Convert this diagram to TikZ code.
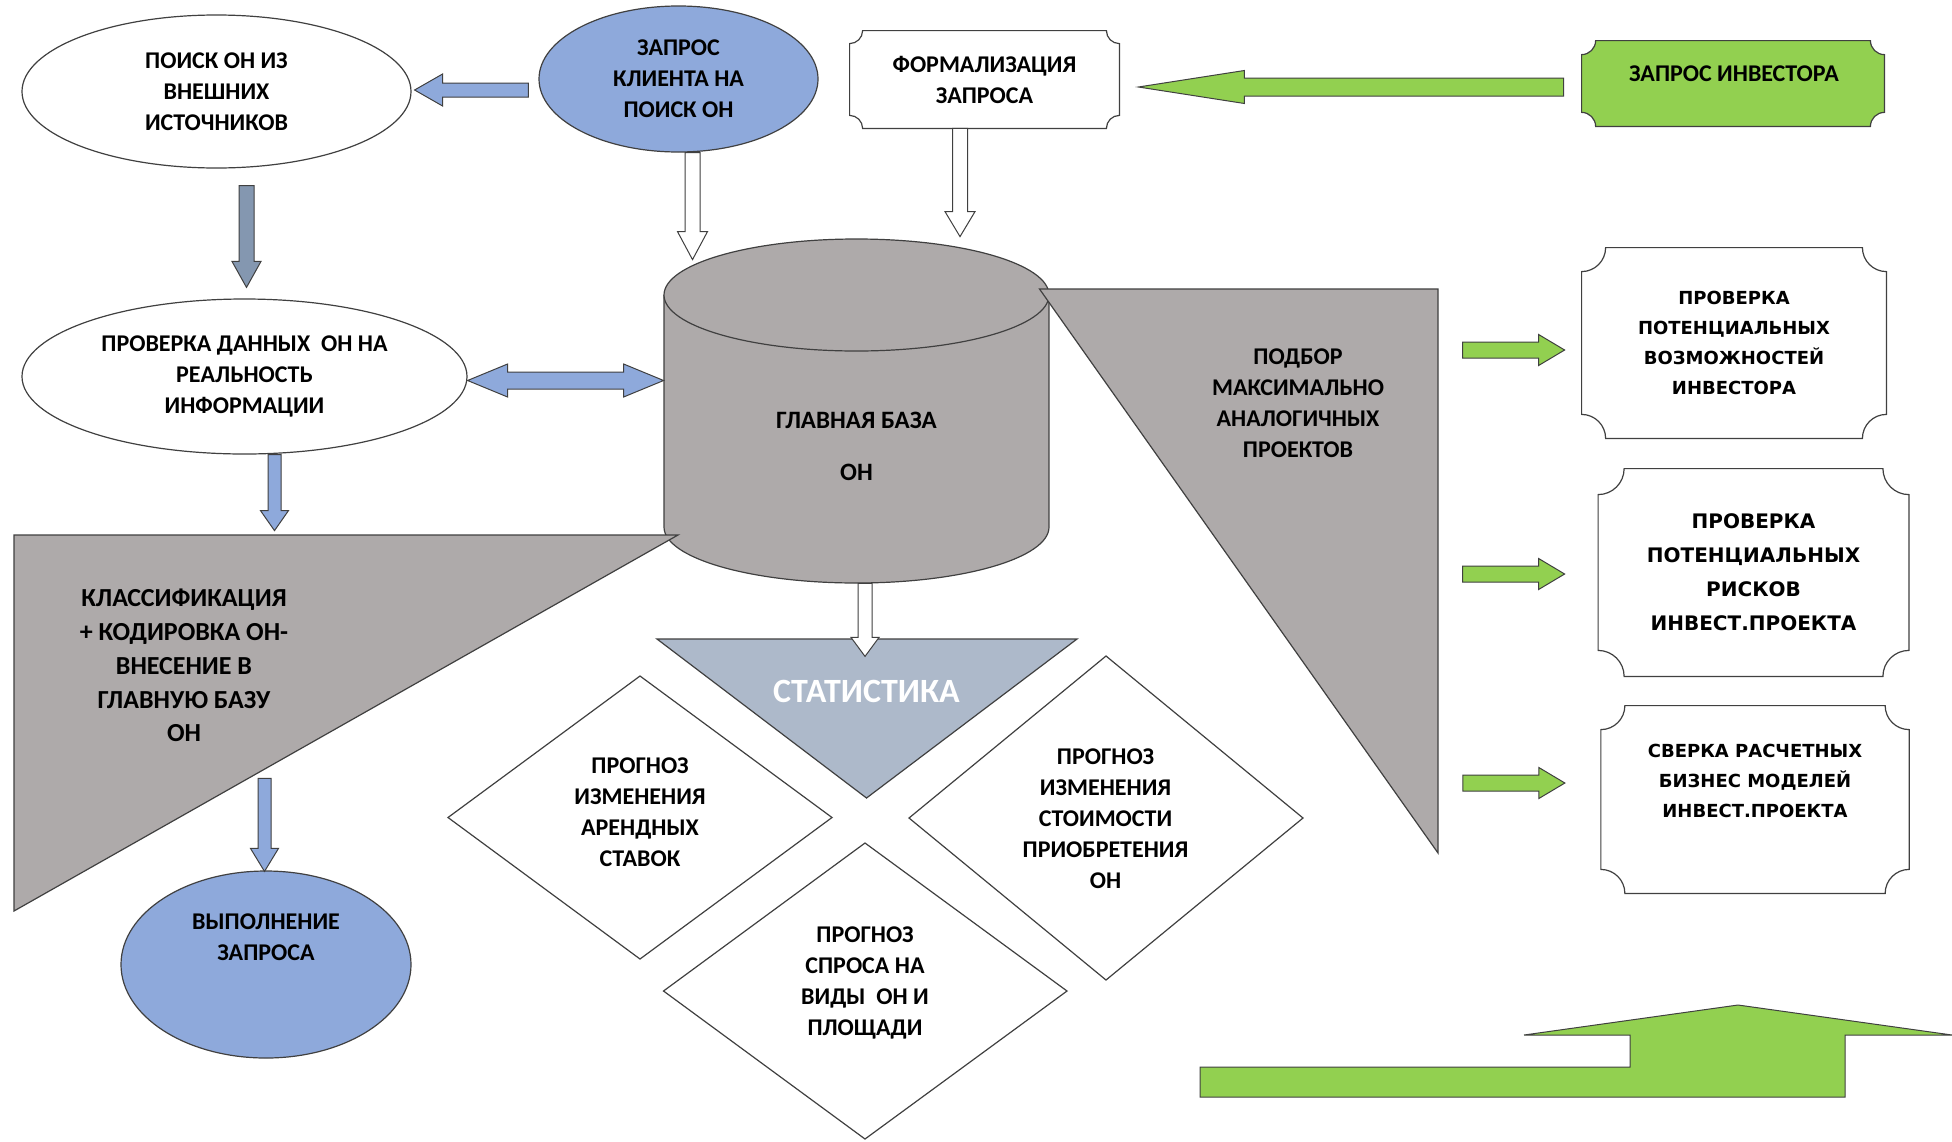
\documentclass[tikz,border=0pt]{standalone}
\usepackage{fontspec}
\setmainfont{Carlito}
\newfontfamily\dvs{DejaVu Sans}
\usetikzlibrary{calc,shapes.geometric}
\definecolor{cblue}{HTML}{8EA9DB}
\definecolor{cdblue}{HTML}{8497B0}
\definecolor{cgray}{HTML}{AEAAAA}
\definecolor{cstat}{HTML}{ADB9CA}
\definecolor{cgreen}{HTML}{92D050}
\definecolor{cline}{HTML}{404040}
\pgfdeclarelayer{bg}
\pgfsetlayers{bg,main}
% horizontal block arrow: style, tail, tip, half shaft, half head, head-base offset from tip (x)
\newcommand\hblock[6]{\draw[#1] ($(#2)+(0,-#4)$) -- ($(#3|-#2)+(#6,-#4)$) -- ($(#3|-#2)+(#6,-#5)$) -- (#3|-#2) -- ($(#3|-#2)+(#6,#5)$) -- ($(#3|-#2)+(#6,#4)$) -- ($(#2)+(0,#4)$) -- cycle;}
% vertical block arrow: style, tail, tip, half shaft, half head, head-base offset from tip (y)
\newcommand\vblock[6]{\draw[#1] ($(#2)+(-#4,0)$) -- ($(#2|-#3)+(-#4,#6)$) -- ($(#2|-#3)+(-#5,#6)$) -- (#2|-#3) -- ($(#2|-#3)+(#5,#6)$) -- ($(#2|-#3)+(#4,#6)$) -- ($(#2)+(#4,0)$) -- cycle;}
% double horizontal block arrow: style, left tip, right tip, half shaft, half head, head length
\newcommand\hdouble[6]{\draw[#1] (#2) -- ($(#2)+(#6,-#5)$) -- ($(#2)+(#6,-#4)$) -- ($(#3|-#2)+(-#6,-#4)$) -- ($(#3|-#2)+(-#6,-#5)$) -- (#3|-#2) -- ($(#3|-#2)+(-#6,#5)$) -- ($(#3|-#2)+(-#6,#4)$) -- ($(#2)+(#6,#4)$) -- ($(#2)+(#6,#5)$) -- cycle;}
% plaque outline around a node: node, corner radius, style
\newcommand\plaque[3]{\begin{pgfonlayer}{bg}\draw[#3] ($(#1.north west)+(#2,0)$) -- ($(#1.north east)+(-#2,0)$)
 .. controls ($(#1.north east)+(-#2,0.552*#2)$) and ($(#1.north east)+(-0.552*#2,#2)$) .. ($(#1.north east)+(0,#2)$)
 -- ($(#1.south east)+(0,-#2)$)
 .. controls ($(#1.south east)+(-0.552*#2,-#2)$) and ($(#1.south east)+(-#2,-0.552*#2)$) .. ($(#1.south east)+(-#2,0)$)
 -- ($(#1.south west)+(#2,0)$)
 .. controls ($(#1.south west)+(#2,-0.552*#2)$) and ($(#1.south west)+(0.552*#2,-#2)$) .. ($(#1.south west)+(0,-#2)$)
 -- ($(#1.north west)+(0,#2)$)
 .. controls ($(#1.north west)+(0.552*#2,#2)$) and ($(#1.north west)+(#2,0.552*#2)$) .. ($(#1.north west)+(#2,0)$) -- cycle;\end{pgfonlayer}}
\tikzset{
  shapeline/.style={draw=cline, line width=0.6pt},
  txt/.style={font=\bfseries\fontsize{12}{15.5}\selectfont, align=center, inner sep=0pt},
  ptxt/.style={font=\dvs\bfseries\fontsize{9}{15}\selectfont, align=center, inner sep=0pt},
  ell/.style={ellipse, shapeline, inner sep=0pt, txt},
  box/.style={rectangle, inner sep=0pt, txt},
  bluearrow/.style={fill=cblue, draw=cline, line width=0.5pt},
  darkarrow/.style={fill=cdblue, draw=cline, line width=0.5pt},
  greenarrow/.style={fill=cgreen, draw=cline, line width=0.5pt},
  openarrow/.style={fill=white, draw=cline, line width=0.5pt},
  grayshape/.style={fill=cgray, shapeline},
  diam/.style={fill=white, shapeline},
}
\begin{document}
\begin{tikzpicture}[x=0.5pt, y=-0.5pt]
\begin{pgfonlayer}{bg}
\fill[white] (0,0) rectangle (1952,1141);
\end{pgfonlayer}
\useasboundingbox (0,0) rectangle (1952,1141);

% ---- ellipses
\node[ell, fill=white, minimum width=194.5pt, minimum height=76.5pt] (E1) at (216.5,91.5) {ПОИСК ОН ИЗ\\ВНЕШНИХ\\ИСТОЧНИКОВ};
\node[ell, fill=cblue, minimum width=139.5pt, minimum height=73pt] (E2) at (678.5,79) {ЗАПРОС\\КЛИЕНТА НА\\ПОИСК ОН};
\node[ell, fill=white, minimum width=222.5pt, minimum height=77.5pt] (E3) at (244.5,376.5) {ПРОВЕРКА ДАННЫХ\ \ ОН НА\\РЕАЛЬНОСТЬ\\ИНФОРМАЦИИ};
\node[ell, fill=cblue, minimum width=145pt, minimum height=93.5pt] (E4) at (266,964.5) {};
\node[txt] (E4t) at (266,937) {ВЫПОЛНЕНИЕ\\ЗАПРОСА};

% ---- plaques
\node[box, minimum width=134.5pt, minimum height=48.5pt] (FORM) at (984.5,79.5) {ФОРМАЛИЗАЦИЯ\\ЗАПРОСА};
\plaque{FORM}{13}{fill=white, shapeline}
\node[box, minimum width=151pt, minimum height=42.5pt] (ZI) at (1733,83.5) {};
\plaque{ZI}{14}{fill=cgreen, shapeline}
\node[txt] (ZIt) at (1734,74) {ЗАПРОС ИНВЕСТОРА};

\node[box, ptxt, minimum width=152pt, minimum height=95pt] (P1) at (1734,343) {ПРОВЕРКА\\ПОТЕНЦИАЛЬНЫХ\\ВОЗМОЖНОСТЕЙ\\ИНВЕСТОРА};
\plaque{P1}{24}{fill=white, shapeline}
\node[box, ptxt, font=\dvs\bfseries\fontsize{10}{17}\selectfont, minimum width=155pt, minimum height=103.5pt] (P2) at (1753.5,572.5) {ПРОВЕРКА\\ПОТЕНЦИАЛЬНЫХ\\РИСКОВ\\ИНВЕСТ.ПРОЕКТА};
\plaque{P2}{26}{fill=white, shapeline}
\node[box, minimum width=153.75pt, minimum height=93.5pt] (P3) at (1755,799.5) {};
\plaque{P3}{24}{fill=white, shapeline}
\node[ptxt] (P3t) at (1755,780.5) {СВЕРКА РАСЧЕТНЫХ\\БИЗНЕС МОДЕЛЕЙ\\ИНВЕСТ.ПРОЕКТА};

% ---- cylinder (main base)
\node[box, minimum width=192.5pt, minimum height=172pt] (CYL) at (856.5,411) {};
\fill[cgray] (664,295) rectangle (1049,527);
\fill[cgray] (856.5,527) ellipse [x radius=96.25pt, y radius=28pt];
\draw[shapeline] (664,295) -- (664,527) .. controls (664,557.9) and (750.2,583) .. (856.5,583)
   .. controls (962.8,583) and (1049,557.9) .. (1049,527) -- (1049,295);
\draw[grayshape] (856.5,295) ellipse [x radius=96.25pt, y radius=28pt];
\node[txt, font=\bfseries\fontsize{12.5}{15.5}\selectfont] (CYLt) at (CYL.center |- 0,446) {ГЛАВНАЯ БАЗА\\[10.5pt]ОН};

% ---- triangles
\coordinate (KL1) at (14,535);
\coordinate (KL2) at (678,535);
\coordinate (KL3) at (14,911);
\draw[grayshape] (KL1) -- (KL2) -- (KL3) -- cycle;
\node[txt, font=\bfseries\fontsize{13}{16.9}\selectfont] (KLASS) at (184,665.5) {КЛАССИФИКАЦИЯ\\+ КОДИРОВКА ОН-\\ВНЕСЕНИЕ В\\ГЛАВНУЮ БАЗУ\\ОН};

\coordinate (PB1) at (1039.5,289);
\coordinate (PB2) at (1438,289);
\coordinate (PB3) at (1438,853);
\draw[grayshape] (PB1) -- (PB2) -- (PB3) -- cycle;
\node[txt] (PODBOR) at (1298,403) {ПОДБОР\\МАКСИМАЛЬНО\\АНАЛОГИЧНЫХ\\ПРОЕКТОВ};

\coordinate (ST1) at (657,639);
\coordinate (ST2) at (1077,639);
\coordinate (ST3) at (866.5,798);
\draw[fill=cstat, shapeline] (ST1) -- (ST2) -- (ST3) -- cycle;
\node[txt, text=white, font=\bfseries\fontsize{17}{20}\selectfont] (STAT) at (866.5,691) {СТАТИСТИКА};

% ---- diamonds
\node[txt] (D1) at (640,812) {ПРОГНОЗ\\ИЗМЕНЕНИЯ\\АРЕНДНЫХ\\СТАВОК};
\begin{pgfonlayer}{bg}
\draw[diam] (448,817.5) -- (640,676) -- (832,817.5) -- (640,959) -- cycle;
\draw[diam] (909,818) -- (1106,656) -- (1303,818) -- (1106,980) -- cycle;
\draw[diam] (663.5,991) -- (865,843) -- (1067,991) -- (865,1139) -- cycle;
\end{pgfonlayer}
\node[txt] (D2) at (1105.5,818.5) {ПРОГНОЗ\\ИЗМЕНЕНИЯ\\СТОИМОСТИ\\ПРИОБРЕТЕНИЯ\\ОН};
\node[txt] (D3) at (865,983) {ПРОГНОЗ\\СПРОСА НА\\ВИДЫ\ \ ОН И\\ПЛОЩАДИ};

% ---- arrows
\coordinate (a1s) at ($(E2.west)+(-10,11)$);
\coordinate (a1t) at ($(E1.east)+(3,-1.5)$);
\hblock{bluearrow}{a1s}{a1t}{7}{16}{28}

\coordinate (gbs) at ($(ZI.west)+(-18,3.5)$);
\coordinate (gbt) at ($(FORM.east)+(19,7.5)$);
\hblock{greenarrow}{gbs}{gbt}{9}{16.5}{106}

\coordinate (o1s) at ($(E2.south)+(14,0)$);
\coordinate (o1t) at ($(CYL.north)+(-164,21)$);
\vblock{openarrow}{o1s}{o1t}{7.5}{15}{-28}

\coordinate (o2s) at ($(FORM.south)+(-24.5,0)$);
\coordinate (o2t) at ($(CYL.north)+(103.5,-2)$);
\vblock{openarrow}{o2s}{o2t}{7.5}{15}{-25}

\coordinate (o3s) at ($(CYL.south)+(8.5,0)$);
\coordinate (o3t) at ($(CYL.south)+(8.5,73)$);
\vblock{openarrow}{o3s}{o3t}{7}{14}{-19}

\coordinate (d1s) at ($(E1.south)+(30,17)$);
\coordinate (d1t) at ($(E3.north)+(2,-11)$);
\vblock{darkarrow}{d1s}{d1t}{7.5}{14.5}{-26}

\coordinate (b2s) at ($(E3.south)+(30,0)$);
\coordinate (b2t) at ($(E3.south)+(30,76)$);
\vblock{bluearrow}{b2s}{b2t}{6.5}{14}{-20}

\coordinate (b3s) at ($(E4.north)+(-1.5,-92)$);
\coordinate (b3t) at ($(E4.north)+(-1.5,1)$);
\vblock{bluearrow}{b3s}{b3t}{6.5}{14}{-23}

\coordinate (dl) at ($(E3.east)+(0,4)$);
\coordinate (dr) at ($(CYL.west)+(0,-30.5)$);
\hdouble{bluearrow}{dl}{dr}{8.5}{16.5}{40}

\coordinate (g1s) at ($(P1.west)+(-119,7)$);
\coordinate (g1t) at ($(P1.west)+(-17,7)$);
\hblock{greenarrow}{g1s}{g1t}{8}{15.5}{-26}
\coordinate (g2s) at ($(P2.west)+(-135.5,1.5)$);
\coordinate (g2t) at ($(P2.west)+(-33.5,1.5)$);
\hblock{greenarrow}{g2s}{g2t}{8}{15.5}{-26}
\coordinate (g3s) at ($(P3.west)+(-138,-16.5)$);
\coordinate (g3t) at ($(P3.west)+(-36,-16.5)$);
\hblock{greenarrow}{g3s}{g3t}{8}{15.5}{-26}

% ---- bent-up arrow
\draw[greenarrow] (1200,1067) -- (1630,1067) -- (1630,1035) -- (1524,1035) -- (1738,1005)
   -- (1952,1035) -- (1845,1035) -- (1845,1097) -- (1200,1097) -- cycle;
\end{tikzpicture}
\end{document}
